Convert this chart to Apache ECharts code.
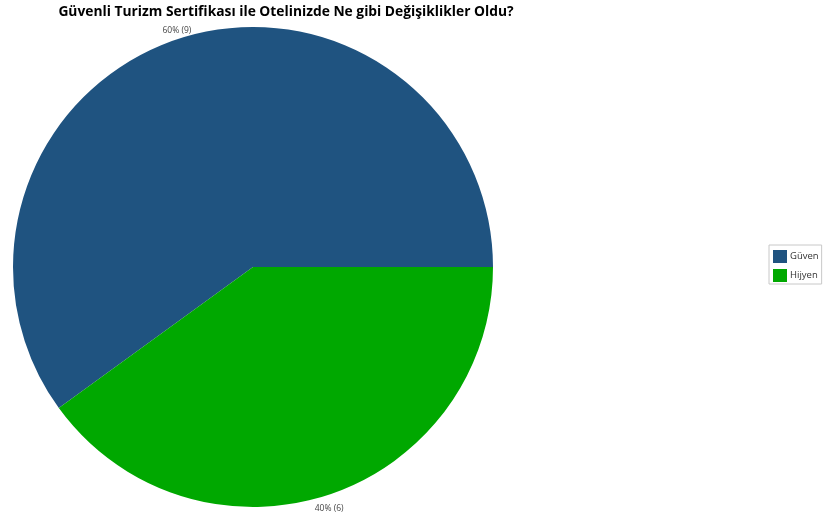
<!DOCTYPE html>
<html>
<head>
<meta charset="utf-8">
<script src="https://cdn.jsdelivr.net/npm/echarts@6/dist/echarts.min.js"></script>
<style>
html,body{margin:0;padding:0;background:#fff;}
#chart{width:825px;height:522px;}
</style>
</head>
<body>
<div id="chart"></div>
<script>
// Answers and their counts
const categories = ['Güven', 'Hijyen'];
const counts = [9, 6];
const colors = ['#1F5380', '#00A800'];
const titleText = 'Güvenli Turizm Sertifikası ile Otelinizde Ne gibi Değişiklikler Oldu?';

const total = counts.reduce((a, b) => a + b, 0);
const pieData = categories.map((name, i) => ({
  name: name,
  value: counts[i],
  itemStyle: { color: colors[i] }
}));

const chart = echarts.init(document.getElementById('chart'), null, { renderer: 'canvas' });
chart.setOption({
  backgroundColor: '#ffffff',
  animation: false,
  title: {
    text: titleText,
    left: 281,
    textAlign: 'center',
    top: 0,
    textStyle: {
      fontFamily: 'Open Sans',
      fontWeight: 'bold',
      fontSize: 13.8,
      color: '#000'
    }
  },
  legend: {
    orient: 'vertical',
    left: 769,
    top: 245,
    data: categories,
    icon: 'rect',
    itemWidth: 14,
    itemHeight: 13,
    itemGap: 6,
    padding: [5, 3, 2, 4],
    borderColor: '#c8c8c8',
    borderWidth: 1,
    textStyle: {
      fontFamily: 'Open Sans',
      fontSize: 9.5,
      color: '#333',
      padding: [0, 0, 0, -2]
    }
  },
  series: [{
    type: 'pie',
    center: [253, 267],
    radius: [0, 240],
    startAngle: 0,
    clockwise: false,
    data: pieData,
    label: {
      show: true,
      position: 'outside',
      formatter: p => Math.round(p.value / total * 100) + '% (' + p.value + ')',
      fontFamily: 'Open Sans',
      fontSize: 8.5,
      color: '#444'
    },
    labelLine: { show: false, length: 0, length2: 0 },
    labelLayout: function (params) {
      const r = params.labelRect;
      const above = params.dataIndex === 0;
      return {
        x: r.x + (above ? r.width / 2 + 3 : -r.width / 2 - 3),
        y: r.y + (above ? -4 : 18),
        align: 'left'
      };
    },
    emphasis: { disabled: true }
  }]
});
</script>
</body>
</html>
